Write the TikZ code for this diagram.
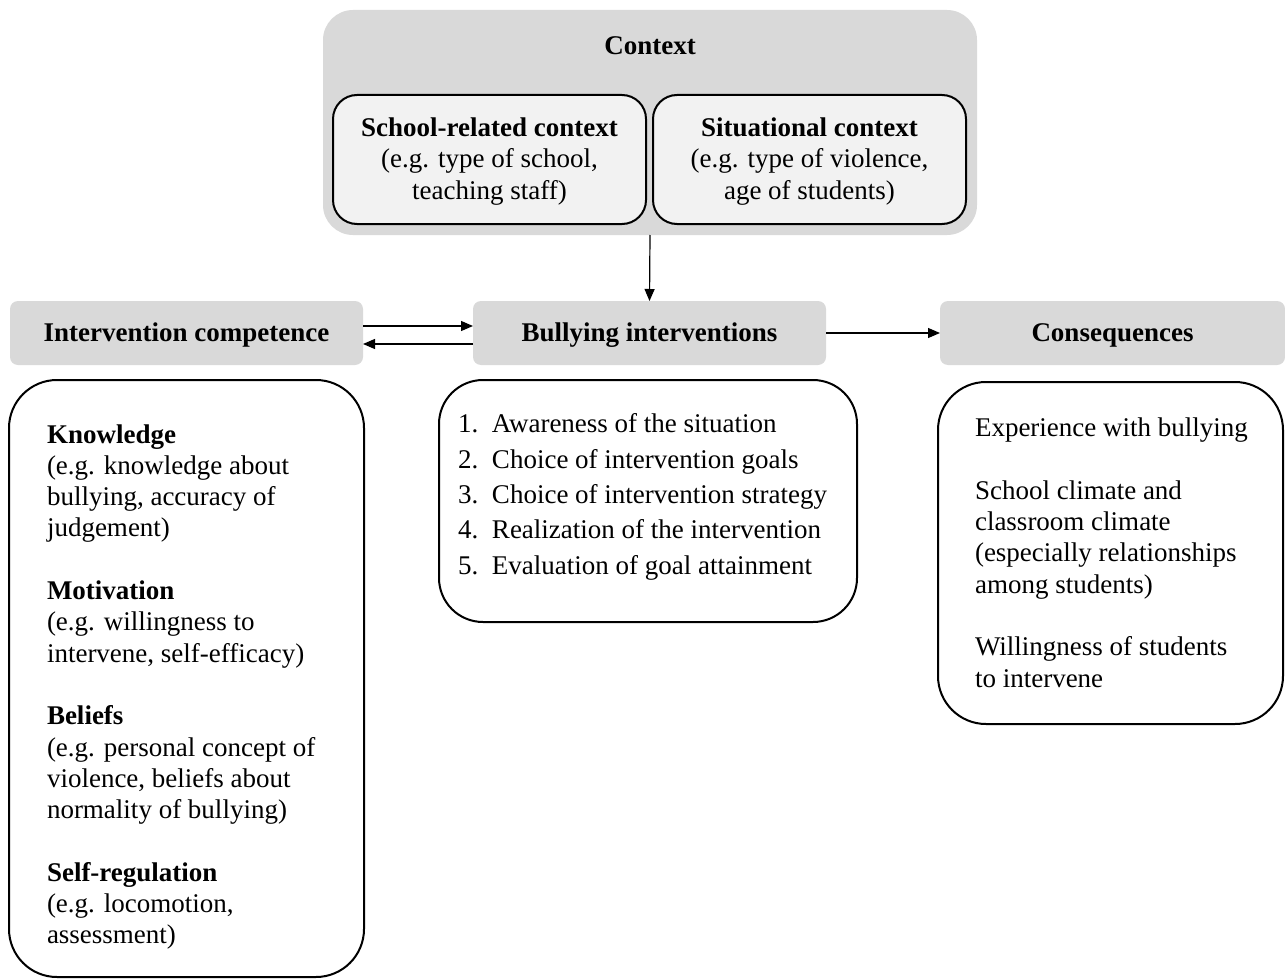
\documentclass[tikz,border=0pt]{standalone}
\usepackage{fontspec}
\setmainfont{Liberation Serif}
\usetikzlibrary{arrows.meta}
\definecolor{hdrgray}{HTML}{D9D9D9}
\definecolor{innergray}{HTML}{F2F2F2}
\begin{document}
\begin{tikzpicture}[x=0.5pt,y=-0.5pt,
  every node/.style={font=\fontsize{13.5pt}{15.65pt}\selectfont, inner sep=0pt, outer sep=0pt},
  ctxouter/.style={fill=hdrgray, draw=none, rounded corners=15pt},
  ctxinner/.style={fill=innergray, draw=black, line width=1pt, rounded corners=12pt},
  hdrbox/.style={fill=hdrgray, draw=none, rounded corners=4pt, minimum width=176.5pt, minimum height=32pt, text height=10pt, text depth=2pt, font=\fontsize{13.5pt}{15.65pt}\selectfont\bfseries},
  contentbox/.style={draw=black, line width=1pt, rounded corners=24pt},
  txt/.style={align=left, anchor=base west},
  arr/.style={-{Triangle[length=6pt,width=5pt]}, line width=0.6pt}
]
\useasboundingbox (0,0) rectangle (1285,979);

% Context
\node[ctxouter, minimum width=327pt, minimum height=112.5pt] (ctx) at (650,122.5) {};
\node[anchor=base, font=\fontsize{13.5pt}{15.65pt}\selectfont\bfseries] (ctxt) at (650,55) {Context};
\node[ctxinner, minimum width=156.5pt, minimum height=64.5pt] (school) at (489.5,159.5) {};
\node[ctxinner, minimum width=156.5pt, minimum height=64.5pt] (situ) at (809.5,159.5) {};
\node[align=center, anchor=base] (schoolt) at (489.5,199) {\textbf{School-related context}\\(e.g. type of school,\\teaching staff)};
\node[align=center, anchor=base] (situt) at (809.5,199) {\textbf{Situational context}\\(e.g. type of violence,\\age of students)};

% Headers
\node[hdrbox] (ic) at (186.5,333) {Intervention competence};
\node[hdrbox] (bi) at (649.5,333) {Bullying interventions};
\node[hdrbox, minimum width=172.5pt] (cons) at (1112.5,333) {Consequences};

% Content boxes
\node[contentbox, minimum width=177.5pt, minimum height=298.5pt] (left) at (186.5,678.5) {};
\node[contentbox, minimum width=209pt, minimum height=121pt, rounded corners=22pt] (mid) at (648,501) {};
\node[contentbox, minimum width=172.5pt, minimum height=171pt] (right) at (1110.5,553) {};

\node[txt] (leftt) at (47,943.8) {\textbf{Knowledge}\\(e.g. knowledge about\\bullying, accuracy of\\judgement)\\[15.65pt]
\textbf{Motivation}\\(e.g. willingness to\\intervene, self-efficacy)\\[15.65pt]
\textbf{Beliefs}\\(e.g. personal concept of\\violence, beliefs about\\normality of bullying)\\[15.65pt]
\textbf{Self-regulation}\\(e.g. locomotion,\\assessment)};

\node[txt, font=\fontsize{13.5pt}{17.65pt}\selectfont] (midt) at (458,574) {\makebox[17pt][l]{1.}Awareness of the situation\\
\makebox[17pt][l]{2.}Choice of intervention goals\\
\makebox[17pt][l]{3.}Choice of intervention strategy\\
\makebox[17pt][l]{4.}Realization of the intervention\\
\makebox[17pt][l]{5.}Evaluation of goal attainment};

\node[txt] (rightt) at (975,687) {Experience with bullying\\[15.65pt]
School climate and\\classroom climate\\(especially relationships\\among students)\\[15.65pt]
Willingness of students\\to intervene};

% Arrows
\draw[arr] (ctx.south) -- (bi.north);
\draw[arr] ([yshift=3.5pt]ic.east) -- ([yshift=3.5pt]bi.west);
\draw[arr] ([yshift=-5.5pt]bi.west) -- ([yshift=-5.5pt]ic.east);
\draw[arr] (bi.east) -- (cons.west);
\end{tikzpicture}
\end{document}
